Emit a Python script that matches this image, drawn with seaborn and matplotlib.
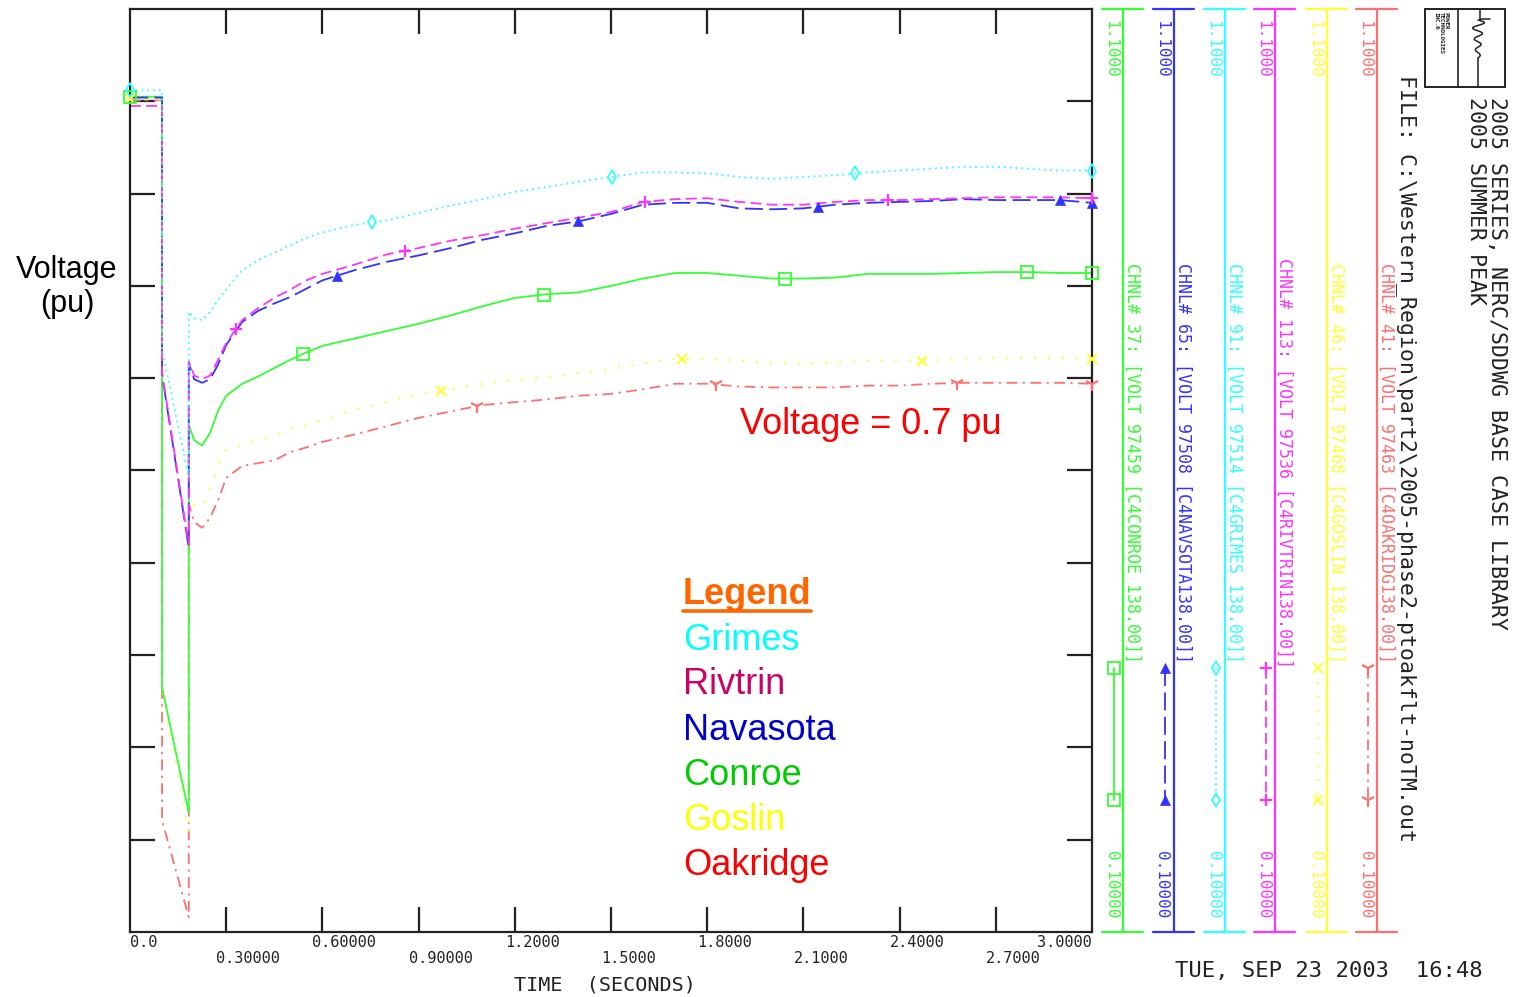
import numpy as np
import pandas as pd
import matplotlib
matplotlib.use("Agg")
import matplotlib.pyplot as plt
import matplotlib.transforms as mtransforms
from matplotlib.lines import Line2D
from matplotlib.patches import Rectangle
import seaborn as sns

# ---------------- data ----------------
time_s = [0.0, 0.1, 0.1, 0.1833, 0.1833, 0.2, 0.225, 0.25, 0.275, 0.3,
          0.35, 0.4, 0.45, 0.5, 0.55, 0.6, 0.7, 0.8, 0.9, 1.0,
          1.1, 1.2, 1.3, 1.4, 1.5, 1.6, 1.7, 1.8, 1.9, 2.0,
          2.1, 2.2, 2.3, 2.4, 2.5, 2.6, 2.7, 2.8, 2.9, 3.0]

grimes = [1.012, 1.012, 0.731, 0.593, 0.772, 0.765, 0.763, 0.772, 0.785, 0.796,
          0.817, 0.828, 0.836, 0.844, 0.852, 0.858, 0.866, 0.871, 0.879, 0.887,
          0.894, 0.902, 0.907, 0.913, 0.918, 0.923, 0.923, 0.922, 0.918, 0.916,
          0.918, 0.920, 0.923, 0.925, 0.927, 0.929, 0.929, 0.927, 0.925, 0.925]
rivtrin = [0.995, 0.995, 0.706, 0.519, 0.718, 0.703, 0.699, 0.703, 0.720, 0.738,
           0.763, 0.776, 0.787, 0.796, 0.806, 0.813, 0.823, 0.834, 0.841, 0.849,
           0.855, 0.862, 0.868, 0.874, 0.880, 0.891, 0.894, 0.895, 0.891, 0.888,
           0.888, 0.891, 0.893, 0.893, 0.894, 0.895, 0.896, 0.896, 0.896, 0.895]
navasota = [1.004, 1.004, 0.704, 0.516, 0.716, 0.699, 0.695, 0.699, 0.715, 0.736,
            0.761, 0.773, 0.781, 0.788, 0.797, 0.806, 0.817, 0.826, 0.833, 0.841,
            0.850, 0.857, 0.865, 0.870, 0.878, 0.888, 0.890, 0.890, 0.884, 0.883,
            0.884, 0.888, 0.890, 0.891, 0.892, 0.894, 0.893, 0.893, 0.893, 0.890]
conroe = [1.005, 1.005, 0.365, 0.229, 0.649, 0.633, 0.627, 0.641, 0.665, 0.681,
          0.694, 0.702, 0.711, 0.720, 0.728, 0.735, 0.743, 0.751, 0.759, 0.768,
          0.778, 0.787, 0.791, 0.793, 0.800, 0.808, 0.814, 0.814, 0.811, 0.808,
          0.808, 0.809, 0.813, 0.813, 0.813, 0.814, 0.815, 0.815, 0.814, 0.814]
goslin = [1.002, 1.002, 0.362, 0.207, 0.571, 0.563, 0.561, 0.579, 0.606, 0.622,
          0.628, 0.633, 0.638, 0.646, 0.649, 0.655, 0.666, 0.674, 0.683, 0.688,
          0.694, 0.698, 0.701, 0.706, 0.710, 0.716, 0.721, 0.721, 0.719, 0.716,
          0.716, 0.717, 0.719, 0.719, 0.719, 0.721, 0.722, 0.722, 0.722, 0.721]
oakridge = [1.001, 1.001, 0.221, 0.116, 0.564, 0.544, 0.538, 0.549, 0.568, 0.592,
            0.605, 0.608, 0.611, 0.620, 0.625, 0.631, 0.639, 0.648, 0.657, 0.664,
            0.671, 0.674, 0.677, 0.681, 0.683, 0.688, 0.694, 0.694, 0.691, 0.690,
            0.690, 0.690, 0.692, 0.692, 0.694, 0.695, 0.695, 0.695, 0.695, 0.694]

# times at which the plotting program drew its symbols
grimes_mk = [0.0, 0.755, 1.503, 2.261, 3.0]
rivtrin_mk = [0.33, 0.858, 1.606, 2.364, 3.0]
navasota_mk = [0.645, 1.397, 2.146, 2.900, 3.0]
conroe_mk = [0.0, 0.54, 1.291, 2.043, 2.797, 3.0]
goslin_mk = [0.0, 0.97, 1.721, 2.470, 3.0]
oakridge_mk = [1.082, 1.827, 2.579, 3.0]

buses = ["Grimes", "Rivtrin", "Navasota", "Conroe", "Goslin", "Oakridge"]
series = {"Grimes": grimes, "Rivtrin": rivtrin, "Navasota": navasota,
          "Conroe": conroe, "Goslin": goslin, "Oakridge": oakridge}
marks = {"Grimes": grimes_mk, "Rivtrin": rivtrin_mk, "Navasota": navasota_mk,
         "Conroe": conroe_mk, "Goslin": goslin_mk, "Oakridge": oakridge_mk}

x_tick_values = [0.0, 0.3, 0.6, 0.9, 1.2, 1.5, 1.8, 2.1, 2.4, 2.7, 3.0]
x_tick_labels = ["0.0", "0.30000", "0.60000", "0.90000", "1.2000", "1.5000",
                 "1.8000", "2.1000", "2.4000", "2.7000", "3.0000"]
y_tick_values = [0.2, 0.3, 0.4, 0.5, 0.6, 0.7, 0.8, 0.9, 1.0]

panel_order = ["Conroe", "Navasota", "Grimes", "Rivtrin", "Goslin", "Oakridge"]
channel_texts = {
    "Conroe": "CHNL# 37: [VOLT 97459 [C4CONROE 138.00]]",
    "Navasota": "CHNL# 65: [VOLT 97508 [C4NAVSOTA138.00]]",
    "Grimes": "CHNL# 91: [VOLT 97514 [C4GRIMES 138.00]]",
    "Rivtrin": "CHNL# 113: [VOLT 97536 [C4RIVTRIN138.00]]",
    "Goslin": "CHNL# 46: [VOLT 97468 [C4GOSLIN 138.00]]",
    "Oakridge": "CHNL# 41: [VOLT 97463 [C4OAKRIDG138.00]]",
}
scale_max_label = "1.1000"
scale_min_label = "0.10000"

# ---------------- styles ----------------
line_colors = {"Grimes": "#33FFFF", "Rivtrin": "#FF33FF", "Navasota": "#3333FF",
               "Conroe": "#33FF33", "Goslin": "#FFFF33", "Oakridge": "#FF6F6F"}
line_styles = {"Grimes": (0, (1.0, 2.2)), "Rivtrin": (0, (6.0, 3.0)),
               "Navasota": (0, (10.0, 3.5)), "Conroe": "-",
               "Goslin": (0, (1.2, 6.5)), "Oakridge": (0, (6.0, 3.0, 1.2, 3.0))}
marker_styles = {"Grimes": dict(marker="d", ms=7, mfc="none", mew=1.3),
                 "Rivtrin": dict(marker="+", ms=9, mew=1.6),
                 "Navasota": dict(marker="^", ms=7, mew=0.5),
                 "Conroe": dict(marker="s", ms=8, mfc="none", mew=1.3),
                 "Goslin": dict(marker="x", ms=7, mew=1.5),
                 "Oakridge": dict(marker="1", ms=10, mew=1.6)}
legend_colors = {"Grimes": "#00FFFF", "Rivtrin": "#CC0066", "Navasota": "#0000CC",
                 "Conroe": "#00CC00", "Goslin": "#FFFF00", "Oakridge": "#FF0000"}

sns.set_theme(style="ticks")
plt.rcParams["font.family"] = ["Liberation Sans", "DejaVu Sans"]
MONO = ["DejaVu Sans Mono"]

W, H = 1514, 997
fig = plt.figure(figsize=(W / 100, H / 100), dpi=100)
fig.patch.set_facecolor("white")


def fx(x):
    return x / W


def fy(y):
    return 1 - y / H


ax = fig.add_axes([fx(130), fy(932), fx(1092) - fx(130), fy(9) - fy(932)])
ax.set_facecolor("white")

df = pd.DataFrame({
    "time": time_s * len(buses),
    "voltage": sum((series[b] for b in buses), []),
    "bus": sum(([b] * len(time_s) for b in buses), []),
})

for b in ["Oakridge", "Goslin", "Conroe", "Navasota", "Rivtrin", "Grimes"]:
    sub = df[df["bus"] == b]
    sns.lineplot(data=sub, x="time", y="voltage", estimator=None, sort=False,
                 color=line_colors[b], linewidth=1.3, linestyle=line_styles[b],
                 ax=ax, legend=False)
    mt = np.array(marks[b])
    mv = np.interp(mt, np.array(time_s), np.array(series[b]))
    ms = dict(marker_styles[b])
    ax.plot(mt, mv, linestyle="none", color=line_colors[b],
            mec=line_colors[b], clip_on=False, zorder=5, **ms)

ax.set_xlim(0.0, 3.0)
ax.set_ylim(0.1, 1.1)
ax.set_xlabel("")
ax.set_ylabel("")
ax.set_xticks(x_tick_values[1:-1])
ax.set_yticks(y_tick_values)
ax.tick_params(axis="both", direction="in", length=18, width=1.6, color="#222222",
               top=True, bottom=True, left=True, right=True,
               labelbottom=False, labelleft=False)
for s in ax.spines.values():
    s.set_visible(True)
    s.set_color("#222222")
    s.set_linewidth(1.6)

# staggered x tick labels
for i, (v, lab) in enumerate(zip(x_tick_values, x_tick_labels)):
    if i == 0:
        dx, ha = 0, "left"
    elif i == len(x_tick_values) - 1:
        dx, ha = 0, "right"
    else:
        dx, ha = -10, "left"
    dy = -10 if i % 2 == 0 else -26
    tr = mtransforms.offset_copy(ax.get_xaxis_transform(), fig=fig, x=dx, y=dy,
                                 units="dots")
    ax.text(v, 0, lab, transform=tr, ha=ha, va="center", family=MONO,
            fontsize=11, color="#222222")

fig.text(fx(514), fy(985), "TIME  (SECONDS)", ha="left", va="center",
         family=MONO, fontsize=14.5, color="#222222")
fig.text(fx(1175), fy(971), "TUE, SEP 23 2003  16:48", ha="left", va="center",
         family=MONO, fontsize=16, color="#222222")

fig.text(fx(67), fy(287), "Voltage\n(pu)", ha="center", va="center",
         multialignment="center", fontsize=22, color="black", linespacing=1.15)

fig.text(fx(740), fy(424), "Voltage = 0.7 pu", ha="left", va="center",
         fontsize=26, color="#FF0000")

# legend text block
fig.text(fx(683), fy(595), "Legend", ha="left", va="center", fontsize=26,
         fontweight="bold", color="#FF6600")
fig.add_artist(Line2D([fx(683), fx(811)], [fy(611), fy(611)], color="#FF6600",
                      lw=2.6, transform=fig.transFigure))
for k, b in enumerate(buses):
    fig.text(fx(683), fy(640 + 45 * k), b, ha="left", va="center", fontsize=26,
             color=legend_colors[b])

# channel scale panels on the right
panel_x = [1123, 1174, 1225, 1275, 1327, 1377]
for vx, b in zip(panel_x, panel_order):
    c = line_colors[b]
    fig.add_artist(Line2D([fx(vx), fx(vx)], [fy(9), fy(932)], color=c, lw=1.6,
                          transform=fig.transFigure))
    for yy in (9, 932):
        fig.add_artist(Line2D([fx(vx - 21), fx(vx + 20)], [fy(yy), fy(yy)], color=c,
                              lw=1.6, transform=fig.transFigure))
    fig.text(fx(vx - 12), fy(20), scale_max_label, rotation=-90,
             rotation_mode="anchor", ha="left", va="center", family=MONO,
             fontsize=11.5, color=c)
    fig.text(fx(vx - 12), fy(918), scale_min_label, rotation=-90,
             rotation_mode="anchor", ha="right", va="center", family=MONO,
             fontsize=11.5, color=c)
    fig.text(fx(vx + 9), fy(263 if b != "Rivtrin" else 258), channel_texts[b],
             rotation=-90, rotation_mode="anchor", ha="left", va="center",
             family=MONO, fontsize=12, color=c)
    ms = dict(marker_styles[b])
    fig.add_artist(Line2D([fx(vx - 9), fx(vx - 9)], [fy(668), fy(800)], color=c,
                          mec=c, lw=1.3, linestyle=line_styles[b],
                          transform=fig.transFigure, **ms))

# title block (rotated)
fig.text(fx(1497), fy(97), "2005 SERIES, NERC/SDDWG BASE CASE LIBRARY",
         rotation=-90, rotation_mode="anchor", ha="left", va="center",
         family=MONO, fontsize=15.5, color="#222222")
fig.text(fx(1476), fy(97), "2005 SUMMER PEAK", rotation=-90,
         rotation_mode="anchor", ha="left", va="center", family=MONO,
         fontsize=15.5, color="#222222")
fig.text(fx(1406), fy(75),
         "FILE: C:\\Western_Region\\part2\\2005-phase2-ptoakflt-noTM.out",
         rotation=-90, rotation_mode="anchor", ha="left", va="center",
         family=MONO, fontsize=15.5, color="#222222")

# logo box
fig.add_artist(Rectangle((fx(1425), fy(87)), fx(1505) - fx(1425), fy(9) - fy(87),
                         fill=False, ec="#222222", lw=1.4, transform=fig.transFigure))
fig.add_artist(Line2D([fx(1458), fx(1458)], [fy(9), fy(87)], color="#222222",
                      lw=1.2, transform=fig.transFigure))
wy = np.linspace(20, 58, 120)
wx = 1478 + 7 * np.exp(-(wy - 20) / 30) * np.sin((wy - 20) / 38 * 2 * np.pi * 3.5)
fig.add_artist(Line2D([fx(1480), fx(1480)], [fy(9), fy(20)], color="#222222", lw=1.1,
                      transform=fig.transFigure))
fig.add_artist(Line2D([fx(1480), fx(1490)], [fy(19), fy(19)], color="#222222", lw=1.1,
                      transform=fig.transFigure))
fig.add_artist(Line2D(fx(wx), fy(wy), color="#222222", lw=1.1,
                      transform=fig.transFigure))
fig.add_artist(Line2D([fx(1478), fx(1478)], [fy(58), fy(87)], color="#222222", lw=1.1,
                      transform=fig.transFigure))
fig.text(fx(1441), fy(12), "POWER\nTECHNOLOGIES\nINC.\u00ae", rotation=-90,
         rotation_mode="anchor", ha="left", va="center", family=MONO,
         fontsize=4.2, fontweight="bold", color="#222222", linespacing=1.0)

fig.savefig("out.png", dpi=100)
